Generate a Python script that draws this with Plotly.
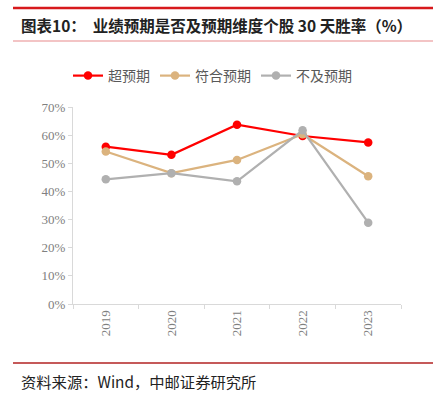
import plotly.graph_objects as go

years = ["2019", "2020", "2021", "2022", "2023"]
beat = [0.559, 0.530, 0.637, 0.597, 0.574]
meet = [0.542, 0.465, 0.512, 0.603, 0.454]
miss = [0.443, 0.465, 0.436, 0.617, 0.289]
names = ["超预期", "符合预期", "不及预期"]
colors = ["#FF0000", "#DBB37E", "#B0B0B0"]

W, H = 433, 393
L, R, T, B = 73, 32, 107, 89
pw, ph = W - L - R, H - T - B

def px_x(x):
    return (x - L) / pw

def px_y(y):
    return (H - B - y) / ph

fig = go.Figure()
for vals, name, c in zip([beat, meet, miss], names, colors):
    fig.add_trace(go.Scatter(
        x=years, y=vals, name=name, mode="lines+markers",
        line=dict(color=c, width=2.2),
        marker=dict(color=c, size=8.5),
    ))

fig.update_layout(
    width=W, height=H,
    margin=dict(l=L, r=R, t=T, b=B),
    paper_bgcolor="white", plot_bgcolor="white",
    showlegend=True,
    legend=dict(
        orientation="h", x=px_x(68), xanchor="left", y=px_y(76), yanchor="middle",
        font=dict(family="Noto Sans CJK SC", size=14, color="#595959"),
        itemwidth=30, traceorder="normal",
    ),
    xaxis=dict(
        type="category", range=[-0.5, 4.5],
        showline=True, linecolor="#D9D9D9", linewidth=1,
        ticks="outside", tickson="boundaries", ticklen=4, tickcolor="#D9D9D9",
        tickangle=-90, showgrid=False, zeroline=False,
        tickfont=dict(family="Liberation Serif", size=13, color="#808080"),
    ),
    yaxis=dict(
        range=[0, 0.7], dtick=0.1, tickformat=".0%",
        showline=True, linecolor="#D9D9D9", linewidth=1,
        ticks="outside", ticklen=4, tickcolor="#D9D9D9",
        showgrid=False, zeroline=False,
        tickfont=dict(family="Liberation Serif", size=13, color="#808080"),
    ),
    shapes=[
        dict(type="line", xref="paper", yref="paper", x0=px_x(13), x1=px_x(433),
             y0=px_y(8), y1=px_y(8), line=dict(color="#D7191C", width=2.5)),
        dict(type="line", xref="paper", yref="paper", x0=px_x(13), x1=px_x(433),
             y0=px_y(41), y1=px_y(41), line=dict(color="#E8898B", width=1.2)),
        dict(type="line", xref="paper", yref="paper", x0=px_x(13), x1=px_x(433),
             y0=px_y(363), y1=px_y(363), line=dict(color="#B22222", width=1.5)),
    ],
    annotations=[
        dict(text="<b>图表10：  业绩预期是否及预期维度个股 30 天胜率（%）</b>",
             xref="paper", yref="paper", x=px_x(19), y=px_y(25),
             xanchor="left", yanchor="middle", showarrow=False,
             font=dict(family="Noto Sans CJK SC", size=15.5, color="#222222")),
        dict(text="资料来源：Wind，中邮证券研究所",
             xref="paper", yref="paper", x=px_x(19), y=px_y(381),
             xanchor="left", yanchor="middle", showarrow=False,
             font=dict(family="Noto Sans CJK SC", size=15.3, color="#222222")),
    ],
)

fig.write_html("out.html", config={"displayModeBar": False})
with open("out.html", encoding="utf-8") as f:
    html = f.read()
html = html.replace("<head>", "<head><style>html,body{margin:0;padding:0;overflow:hidden;}</style>", 1)
with open("out.html", "w", encoding="utf-8") as f:
    f.write(html)
